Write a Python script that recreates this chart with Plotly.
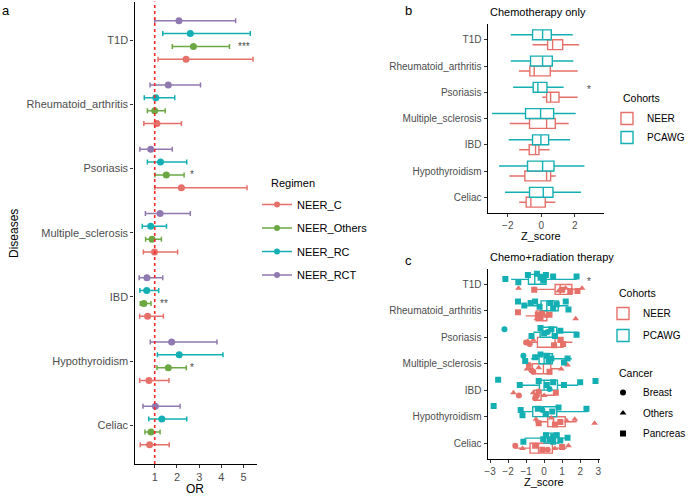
import plotly.graph_objects as go

W, H = 691, 497
FONT = "Liberation Sans, Arial, sans-serif"

# categories, bottom -> top
diseases = ["Celiac", "Hypothyroidism", "IBD", "Multiple_sclerosis",
            "Psoriasis", "Rheumatoid_arthritis", "T1D"]

# ---- panel a: odds ratios per regimen ----
regimens = ["NEER_C", "NEER_Others", "NEER_RC", "NEER_RCT"]
reg_colors = ["#E5716A", "#6BA843", "#14AFB3", "#9079B0"]

or_c = [0.77, 0.74, 0.68, 0.99, 2.20, 1.10, 2.41]
lo_c = [0.35, 0.32, 0.32, 0.49, 1.00, 0.51, 1.15]
hi_c = [1.65, 1.64, 1.39, 2.03, 5.15, 2.20, 5.42]

or_others = [0.83, 1.61, 0.51, 0.88, 1.52, 1.00, 2.74]
lo_others = [0.56, 1.10, 0.35, 0.59, 1.01, 0.67, 1.79]
hi_others = [1.24, 2.42, 0.83, 1.30, 2.32, 1.47, 4.36]

or_rc = [1.32, 2.10, 0.64, 0.82, 1.26, 1.05, 2.60]
lo_rc = [0.73, 1.12, 0.33, 0.44, 0.67, 0.53, 1.36]
hi_rc = [2.44, 4.07, 1.18, 1.53, 2.44, 1.90, 5.30]

or_rct = [1.03, 1.76, 0.65, 1.24, 0.82, 1.61, 2.09]
lo_rct = [0.47, 0.80, 0.30, 0.58, 0.33, 0.79, 1.00]
hi_rct = [2.14, 3.80, 1.36, 2.60, 1.79, 3.06, 4.64]

# significance labels: regimen, disease, label, x
sig_regimen = ["NEER_C", "NEER_Others", "NEER_RC", "NEER_Others", "NEER_Others", "NEER_Others"]
sig_disease = ["T1D", "T1D", "T1D", "Psoriasis", "IBD", "Hypothyroidism"]
sig_label = ["*", "***", "**", "*", "**", "*"]
sig_x = [5.77, 5.0, 5.8, 2.68, 1.41, 2.68]

# ---- panel b: chemotherapy only, box stats ----
cohorts = ["NEER", "PCAWG"]
coh_colors = ["#E5716A", "#14AFB3"]

b_neer_lo = [-1.32, -1.90, -1.32, -1.88, 0.06, -1.34, -0.52]
b_neer_q1 = [-0.90, -0.98, -0.72, -0.70, 0.32, -0.68, 0.38]
b_neer_med = [-0.62, 0.32, -0.34, 0.32, 0.56, -0.42, 0.68]
b_neer_q3 = [0.24, 0.56, -0.14, 0.84, 1.06, 0.54, 1.28]
b_neer_hi = [0.84, 0.86, 0.50, 1.64, 2.18, 2.18, 2.26]

b_pcawg_lo = [-2.16, -2.52, -1.94, -2.94, -1.68, -1.82, -1.82]
b_pcawg_q1 = [-0.70, -0.82, -0.52, -0.94, -0.48, -0.64, -0.52]
b_pcawg_med = [0.12, 0.08, -0.02, -0.04, -0.20, 0.08, 0.08]
b_pcawg_q3 = [0.70, 0.76, 0.44, 0.74, 0.34, 0.66, 0.60]
b_pcawg_hi = [2.38, 2.58, 1.72, 2.06, 1.34, 1.92, 1.88]

# ---- panel c: chemo+radiation, box stats ----
c_neer_lo = [-1.65, -0.50, -0.59, -0.91, -1.06, -1.02, -0.59]
c_neer_q1 = [-0.78, 0.20, -0.56, -0.65, -0.37, -0.44, 0.61]
c_neer_med = [-0.31, 0.52, -0.37, -0.04, 0.61, -0.22, 0.89]
c_neer_q3 = [0.46, 1.17, -0.17, 0.37, 1.04, 0.15, 1.54]
c_neer_hi = [1.26, 1.81, 0.61, 0.98, 1.57, 0.43, 2.09]

c_pcawg_lo = [-1.09, -1.28, -1.28, -0.72, -0.59, -1.09, -1.83]
c_pcawg_q1 = [0.00, -0.63, -0.26, -0.28, -0.22, -0.17, -0.87]
c_pcawg_med = [0.24, -0.04, 0.00, 0.00, 0.46, 0.15, -0.52]
c_pcawg_q3 = [0.80, 0.70, 0.74, 0.46, 0.70, 0.78, 0.11]
c_pcawg_hi = [1.31, 2.43, 1.87, 1.54, 1.87, 1.35, 1.81]

# individual samples (panel c): disease, z score, jitter, cancer type
c_neer_dis = (["T1D"] * 8 + ["Rheumatoid_arthritis"] * 8 + ["Psoriasis"] * 7 +
              ["Multiple_sclerosis"] * 8 + ["IBD"] * 8 + ["Hypothyroidism"] * 8 + ["Celiac"] * 8)
c_neer_z = [-1.42, -0.55, 0.8, 1.0, 1.2, 1.45, 1.85, 2.1,
            -1.45, -0.35, -0.2, 0.1, 0.3, -0.4, 1.75, -0.1,
            -1.0, -0.9, -0.6, 0.55, 0.9, 1.05, -0.8,
            -0.85, -0.95, -0.7, -0.3, 0.3, 0.95, 1.3, -0.6,
            -1.7, -1.4, -0.6, -0.4, -0.3, 0.0, 0.65, -0.5,
            -0.45, -0.3, 0.4, 0.6, 0.9, 1.25, 1.7, 2.8,
            -1.6, -1.2, -0.5, -0.1, 0.6, 1.0, 1.35, 0.2]
c_neer_jit = [-0.15, -0.2, -0.25, -0.2, -0.15, -0.25, -0.25, -0.15,
              -0.05, -0.15, -0.25, -0.2, -0.15, -0.3, -0.3, -0.1,
              -0.2, -0.15, -0.1, -0.3, -0.1, -0.25, -0.25,
              -0.05, -0.2, -0.25, -0.15, -0.3, -0.2, -0.05, -0.3,
              -0.1, -0.2, -0.1, -0.2, -0.05, -0.2, -0.1, -0.3,
              -0.1, -0.25, -0.05, -0.3, -0.2, -0.15, -0.1, -0.25,
              -0.1, -0.2, -0.1, -0.25, -0.2, -0.15, -0.1, -0.25]
c_neer_cancer = ["Others", "Pancreas", "Others", "Pancreas", "Others", "Pancreas", "Pancreas", "Others",
                 "Pancreas", "Pancreas", "Pancreas", "Others", "Pancreas", "Others", "Others", "Breast",
                 "Breast", "Others", "Others", "Pancreas", "Pancreas", "Pancreas", "Breast",
                 "Breast", "Others", "Breast", "Others", "Pancreas", "Others", "Others", "Breast",
                 "Others", "Breast", "Others", "Breast", "Breast", "Others", "Pancreas", "Breast",
                 "Others", "Pancreas", "Others", "Pancreas", "Pancreas", "Others", "Others", "Others",
                 "Breast", "Others", "Pancreas", "Pancreas", "Others", "Pancreas", "Others", "Breast"]

c_pcawg_dis = (["T1D"] * 9 + ["Rheumatoid_arthritis"] * 10 + ["Psoriasis"] * 9 +
               ["Multiple_sclerosis"] * 9 + ["IBD"] * 9 + ["Hypothyroidism"] * 9 + ["Celiac"] * 9)
c_pcawg_z = [-2.15, -1.43, -0.9, -0.4, -0.2, 0.1, -0.05, 0.5, 1.8,
             -1.45, -1.1, -0.75, -0.5, -0.25, 0.35, 0.5, 0.7, 1.2, 1.35,
             -2.2, -0.7, -0.2, 0.0, 0.4, 0.6, 0.9, 1.8, 0.2,
             -1.15, -1.05, -0.5, -0.2, 0.15, 0.4, 0.25, 1.1, 1.3,
             -2.55, -1.35, -0.3, 0.15, 0.5, 1.1, 2.0, 2.85, 0.3,
             -2.8, -1.3, -1.2, -0.35, 0.1, 0.45, 0.8, 2.35, -0.1,
             -1.15, 0.1, 0.3, 0.5, 0.7, 0.9, 1.3, -0.05, 0.5]
c_pcawg_jit = [0.2, 0.08, 0.35, 0.4, 0.25, 0.35, 0.15, 0.3, 0.3,
               0.35, 0.2, 0.3, 0.35, 0.15, 0.3, 0.1, 0.25, 0.35, 0.05,
               0.3, 0.05, 0.35, 0.15, 0.3, 0.05, 0.25, 0.1, 0.2,
               0.3, 0.1, 0.25, 0.35, 0.3, 0.2, 0.1, 0.05, 0.2,
               0.4, 0.2, 0.35, 0.2, 0.3, 0.2, 0.3, 0.35, 0.05,
               0.4, 0.25, 0.05, 0.3, 0.1, 0.2, 0.35, 0.3, 0.25,
               0.05, 0.3, 0.15, 0.25, 0.3, 0.1, 0.2, 0.15, 0.05]
c_pcawg_cancer = ["Pancreas"] * 19 + ["Breast"] + ["Pancreas"] * 7 + ["Breast"] + \
                 ["Breast"] + ["Pancreas"] * 16 + ["Breast"] + ["Pancreas"] * 8 + ["Breast"] + ["Pancreas"] * 9

cancers = ["Breast", "Others", "Pancreas"]
cancer_symbols = {"Breast": "circle", "Others": "triangle-up", "Pancreas": "square"}

pos = {d: i + 1 for i, d in enumerate(diseases)}

fig = go.Figure()

# panel a
or_sets = [(or_c, lo_c, hi_c), (or_others, lo_others, hi_others),
           (or_rc, lo_rc, hi_rc), (or_rct, lo_rct, hi_rct)]
offsets = [-0.3, -0.1, 0.1, 0.3]
for name, col, off, (orv, lo, hi) in zip(regimens, reg_colors, offsets, or_sets):
    fig.add_trace(go.Scatter(
        x=orv, y=[pos[d] + off for d in diseases], mode="markers",
        marker=dict(color=col, size=7),
        error_x=dict(type="data", symmetric=False,
                     array=[h - o for h, o in zip(hi, orv)],
                     arrayminus=[o - l for o, l in zip(orv, lo)],
                     color=col, thickness=1.5, width=2.5),
        showlegend=False, xaxis="x", yaxis="y"))
    fig.add_trace(go.Scatter(
        x=[None], y=[None], mode="lines+markers", name=name,
        line=dict(color=col, width=1.5), marker=dict(color=col, size=6),
        legend="legend", legendgroup=name, xaxis="x", yaxis="y"))

for r, d, lab, x in zip(sig_regimen, sig_disease, sig_label, sig_x):
    fig.add_annotation(x=x, y=pos[d] + offsets[regimens.index(r)], xref="x", yref="y",
                       text=lab, showarrow=False, font=dict(size=10, color="#4D4D4D"))

fig.add_shape(type="line", x0=1, x1=1, y0=0, y1=1, xref="x", yref="y domain",
              line=dict(color="#F0282C", width=1.6, dash="dot"))

# panels b and c: boxes
b_sets = [(b_neer_lo, b_neer_q1, b_neer_med, b_neer_q3, b_neer_hi),
          (b_pcawg_lo, b_pcawg_q1, b_pcawg_med, b_pcawg_q3, b_pcawg_hi)]
c_sets = [(c_neer_lo, c_neer_q1, c_neer_med, c_neer_q3, c_neer_hi),
          (c_pcawg_lo, c_pcawg_q1, c_pcawg_med, c_pcawg_q3, c_pcawg_hi)]
dodge = [-0.19, 0.19]
for sets, ax, leg in [(b_sets, "2", "legend2"), (c_sets, "3", "legend3")]:
    for name, col, off, (lo, q1, med, q3, hi) in zip(cohorts, coh_colors, dodge, sets):
        fig.add_trace(go.Box(
            y=[pos[d] + off for d in diseases], orientation="h",
            q1=q1, median=med, q3=q3, lowerfence=lo, upperfence=hi,
            width=0.375, whiskerwidth=0, fillcolor="white",
            line=dict(color=col, width=1.4), boxpoints=False,
            name=name, legend=leg, legendgroup=name + ax,
            xaxis="x" + ax, yaxis="y" + ax))

# panel c points
for name, col, dis, z, jit, can in [
        ("NEER", coh_colors[0], c_neer_dis, c_neer_z, c_neer_jit, c_neer_cancer),
        ("PCAWG", coh_colors[1], c_pcawg_dis, c_pcawg_z, c_pcawg_jit, c_pcawg_cancer)]:
    fig.add_trace(go.Scatter(
        x=z, y=[pos[d] + j for d, j in zip(dis, jit)], mode="markers",
        marker=dict(color=col, size=6, symbol=[cancer_symbols[c] for c in can]),
        showlegend=False, xaxis="x3", yaxis="y3"))

for c in cancers:
    fig.add_trace(go.Scatter(
        x=[None], y=[None], mode="markers", name=c,
        marker=dict(color="black", size=6, symbol=cancer_symbols[c]),
        legend="legend4", legendgroup=c, xaxis="x3", yaxis="y3"))

fig.add_annotation(x=2.86, y=pos["Psoriasis"] + 0.12, xref="x2", yref="y2", text="*",
                   showarrow=False, font=dict(size=10, color="#4D4D4D"))
fig.add_annotation(x=2.5, y=pos["T1D"] + 0.1, xref="x3", yref="y3", text="*",
                   showarrow=False, font=dict(size=10, color="#4D4D4D"))


def px(x):
    return x / W


def py(y):
    return 1 - y / H


axis_common = dict(showline=True, linecolor="black", linewidth=1.4, showgrid=False,
                   zeroline=False, ticks="outside", ticklen=3, tickcolor="#333333",
                   tickwidth=1, automargin=False)
ycats = dict(tickmode="array", tickvals=[pos[d] for d in diseases], ticktext=diseases,
             range=[0.4, 7.6])


def legend_box(x, y, size, gap):
    return dict(font=dict(size=size), x=px(x), y=py(y), xanchor="left", yanchor="top",
                traceorder="grouped", tracegroupgap=gap, bgcolor="rgba(0,0,0,0)")


fig.update_layout(
    width=W, height=H, margin=dict(l=0, r=0, t=0, b=0, autoexpand=False),
    paper_bgcolor="white", plot_bgcolor="white",
    font=dict(family=FONT, color="black"),
    xaxis=dict(axis_common, anchor="y", domain=[px(134.5), px(257)], range=[0.09, 5.6],
               tickvals=[1, 2, 3, 4, 5], tickfont=dict(size=11, color="#4D4D4D")),
    yaxis=dict(axis_common, **ycats, anchor="x", domain=[py(464), py(1.5)],
               tickfont=dict(size=11, color="#4D4D4D")),
    xaxis2=dict(axis_common, anchor="y2", domain=[px(487.7), px(604)], range=[-3.2, 3.75],
                tickvals=[-2, 0, 2], tickfont=dict(size=10, color="#4D4D4D")),
    yaxis2=dict(axis_common, **ycats, anchor="x2", domain=[py(213), py(24)],
                tickfont=dict(size=10, color="#4D4D4D")),
    xaxis3=dict(axis_common, anchor="y3", domain=[px(487.7), px(600)], range=[-3.13, 3.1],
                tickvals=[-3, -2, -1, 0, 1, 2, 3], tickfont=dict(size=10, color="#4D4D4D")),
    yaxis3=dict(axis_common, **ycats, anchor="x3", domain=[py(459), py(268.5)],
                tickfont=dict(size=10, color="#4D4D4D")),
    boxmode="overlay",
    legend=legend_box(257, 190, 11, 4.5),
    legend2=legend_box(607, 104, 10, 0),
    legend3=legend_box(603, 299, 10, 3),
    legend4=legend_box(603, 378, 10, 1.5),
)

# titles, legend titles and panel labels
labels = [
    ("a", 6, 10, 13, 0, "center"), ("b", 408, 10, 13, 0, "center"), ("c", 408, 260, 13, 0, "center"),
    ("Diseases", 14, 234, 12, -90, "center"), ("OR", 195, 488.5, 12, 0, "center"),
    ("Z_score", 541, 236, 11, 0, "center"), ("Z_score", 544, 482, 11, 0, "center"),
    ("Chemotherapy only", 488, 12, 11, 0, "left"), ("Chemo+radiation therapy", 488, 257, 11, 0, "left"),
    ("Regimen", 269, 183, 11, 0, "left"), ("Cohorts", 621, 98, 10.5, 0, "left"),
    ("Cohorts", 617, 293, 10.5, 0, "left"), ("Cancer", 617, 373, 10.5, 0, "left"),
]
for text, x, y, size, ang, anchor in labels:
    fig.add_annotation(x=px(x), y=py(y), xref="paper", yref="paper", text=text,
                       showarrow=False, textangle=ang, xanchor=anchor, yanchor="middle",
                       font=dict(size=size, color="black"))

# the page body has a default 8px margin; drop it so the figure fills the window
fig.write_html("out.html", config={"displayModeBar": False},
               post_script="document.body.style.margin='0';")
